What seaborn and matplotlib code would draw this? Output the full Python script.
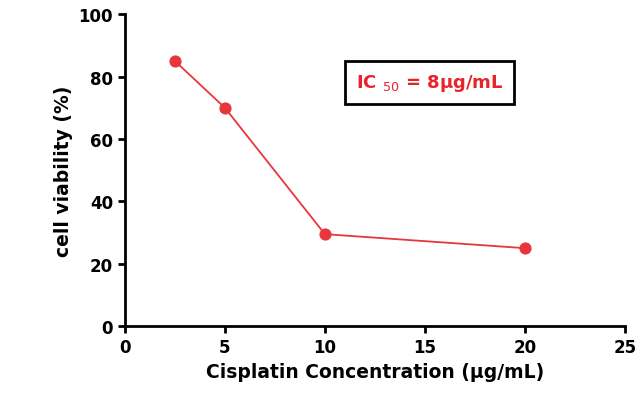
import matplotlib
matplotlib.use("Agg")
import matplotlib.pyplot as plt
import seaborn as sns
import pandas as pd

conc = [2.5, 5, 10, 20]
viability = [85, 70, 29.5, 25]
xticks = [0, 5, 10, 15, 20, 25]
yticks = [0, 20, 40, 60, 80, 100]

df = pd.DataFrame({"conc": conc, "viability": viability})
fig = plt.figure(figsize=(6.37, 4.10), dpi=100)
ax = fig.add_axes([0.196, 0.202, 0.785, 0.761])
sns.lineplot(data=df, x="conc", y="viability", ax=ax, color="#e8363c",
             marker="o", markersize=8, markeredgecolor="#e8363c", linewidth=1.3)
ax.set_xlim(0, 25)
ax.set_ylim(0, 100)
ax.set_xticks(xticks)
ax.set_yticks(yticks)
for s in ["top", "right"]:
    ax.spines[s].set_visible(False)
for s in ["left", "bottom"]:
    ax.spines[s].set_linewidth(2)
ax.tick_params(width=2, length=5, labelsize=12)
for lab in ax.get_xticklabels() + ax.get_yticklabels():
    lab.set_fontweight("bold")
ax.set_xlabel("Cisplatin Concentration (μg/mL)", fontsize=13.5, fontweight="bold")
ax.set_ylabel("cell viability (%)", fontsize=13.5, fontweight="bold")
ax.text(0.61, 0.78, "IC $_{50}$ = 8μg/mL", transform=ax.transAxes, color="#e8232a",
        fontsize=13, fontweight="bold", va="center", ha="center",
        bbox=dict(boxstyle="square,pad=0.6", fc="white", ec="black", lw=2))
fig.savefig("out.png", dpi=100)
